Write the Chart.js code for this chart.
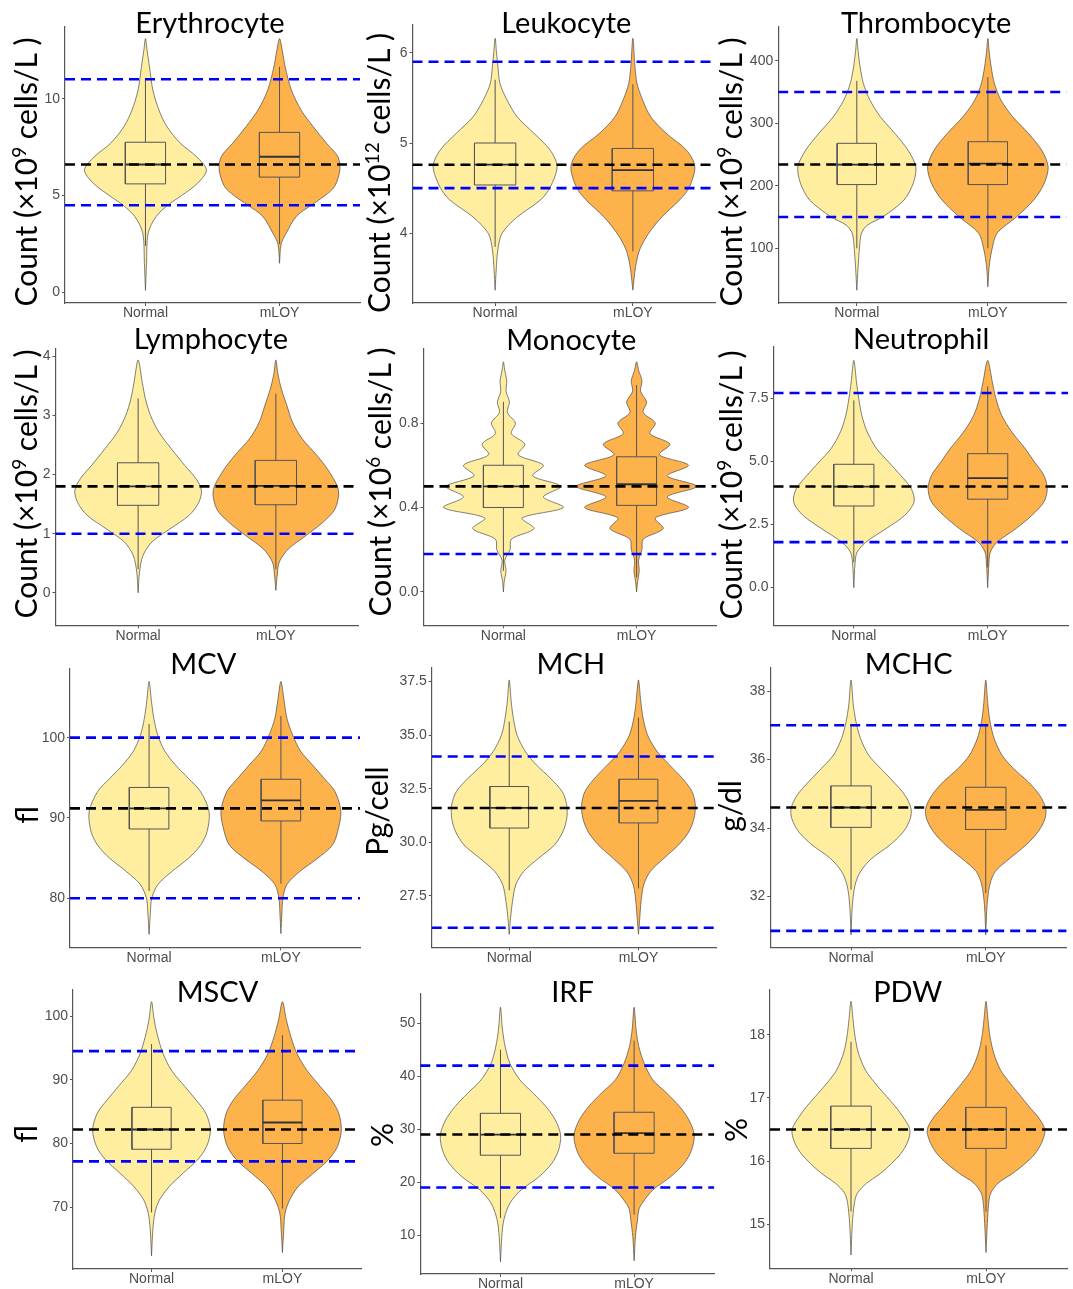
<!DOCTYPE html>
<html>
<head>
<meta charset="utf-8">
<script src="https://cdn.jsdelivr.net/npm/chart.js"></script>
<style>
  html, body { margin: 0; padding: 0; background: #fff; }
  #page { position: relative; width: 1073px; height: 1289px; overflow: hidden; background: #fff; }
  #page canvas { position: absolute; }
</style>
</head>
<body>
<div id="page"></div>
<script>
// ---- values ----
const categories = ['Normal', 'mLOY'];
const panelTitles = ['Erythrocyte', 'Leukocyte', 'Thrombocyte', 'Lymphocyte', 'Monocyte', 'Neutrophil',
    'MCV', 'MCH', 'MCHC', 'MSCV', 'IRF', 'PDW'];
// {n} marks a superscript
const yTitles = ['Count (×10{9} cells/L )', 'Count (×10{12} cells/L )', 'Count (×10{9} cells/L )',
    'Count (×10{9} cells/L )', 'Count (×10{6} cells/L )', 'Count (×10{9} cells/L )',
    'fl', 'Pg/cell', 'g/dl', 'fl', '%', '%'];
const yTicks = [[0, 5, 10], [4, 5, 6], [100, 200, 300, 400], [0, 1, 2, 3, 4], [0, 0.4, 0.8], [0, 2.5, 5, 7.5],
    [80, 90, 100], [27.5, 30, 32.5, 35, 37.5], [32, 34, 36, 38], [70, 80, 90, 100], [10, 20, 30, 40, 50], [15, 16, 17, 18]];
const tickDecimals = [0, 0, 0, 0, 1, 1, 0, 1, 0, 0, 0, 0];
const yMin = [-0.55, 3.228, 12.5, -0.55, -0.158, -1.49, 73.9, 25.09, 30.52, 60.32, 2.7, 14.3];
const yMax = [13.7, 6.307, 454.6, 4.13, 1.152, 9.52, 108.55, 38.15, 38.68, 104.08, 55.5, 18.71];

// reference range (blue) and overall median (black)
const refRange = [[4.5, 11], [4.5, 5.9], [150, 350], [1.0], [0.18], [1.8, 7.7],
    [80, 100], [26, 34], [31, 37], [77.2, 94.5], [19, 42], []];
const refMedian = [6.6, 4.76, 234, 1.8, 0.5, 4.0, 91.2, 31.6, 34.6, 82.2, 29.0, 16.5];

// box stats: [q1, median, q3, lower whisker, upper whisker]
const normalBox = [[5.6, 6.6, 7.75, 2.4, 11.05], [4.535, 4.76, 5.0, 3.85, 5.7], [202, 234, 268, 100, 368],
    [1.48, 1.8, 2.2, 0.4, 3.29], [0.4, 0.5, 0.6, 0.1, 0.9], [3.23, 4.0, 4.88, 1.0, 7.41],
    [88.63, 91.2, 93.8, 80.9, 101.7], [30.66, 31.6, 32.6, 27.75, 35.63], [34.02, 34.6, 35.23, 32.2, 37.0],
    [79.1, 82.2, 85.68, 69.2, 95.6], [25.1, 29.0, 33.0, 13.25, 45.0], [16.2, 16.5, 16.87, 15.2, 17.89]];
const mloyBox = [[5.95, 7.0, 8.26, 2.5, 11.65], [4.47, 4.70, 4.94, 3.8, 5.65], [202, 235.5, 270.6, 100, 374],
    [1.49, 1.81, 2.24, 0.4, 3.37], [0.41, 0.51, 0.64, 0.07, 0.98], [3.5, 4.33, 5.3, 0.8, 7.96],
    [89.63, 92.2, 94.82, 81.8, 102.7], [30.9, 31.93, 32.94, 27.84, 35.82], [33.96, 34.53, 35.19, 32.1, 37.0],
    [80.0, 83.3, 86.8, 69.8, 97.0], [25.47, 29.25, 33.2, 13.9, 46.7], [16.2, 16.5, 16.85, 15.2, 17.83]];

// violin profiles: [value, density as half width in category units]
const normalDensity = [
    [[0.1, 0], [1.5, 0.008], [3.06, 0.02], [3.92, 0.08], [4.52, 0.17], [5.0, 0.27], [5.64, 0.39], [6.32, 0.455], [7.01, 0.38], [7.7, 0.26], [8.56, 0.16], [9.42, 0.1], [10.45, 0.055], [11.65, 0.03], [12.5, 0.012], [13.1, 0]],
    [[3.37, 0], [3.6, 0.008], [3.82, 0.02], [4.0, 0.05], [4.18, 0.16], [4.37, 0.33], [4.51, 0.40], [4.74, 0.45], [4.92, 0.40], [5.11, 0.28], [5.29, 0.16], [5.48, 0.085], [5.66, 0.035], [5.85, 0.02], [6.0, 0.01], [6.16, 0]],
    [[33, 0], [70.7, 0.01], [100, 0.02], [124, 0.035], [137, 0.08], [150.6, 0.2], [177.3, 0.36], [203.9, 0.43], [230.5, 0.45], [257.2, 0.39], [283.8, 0.29], [310.4, 0.18], [337.1, 0.1], [363.7, 0.05], [390.4, 0.025], [415, 0.01], [435.6, 0]],
    [[0, 0], [0.35, 0.01], [0.63, 0.035], [0.86, 0.1], [1.08, 0.23], [1.31, 0.37], [1.53, 0.44], [1.73, 0.46], [1.93, 0.42], [2.15, 0.34], [2.44, 0.24], [2.72, 0.15], [3.0, 0.09], [3.28, 0.053], [3.56, 0.03], [3.94, 0]],
    [[0, 0], [0.05, 0.006], [0.1, 0.02], [0.15, 0.01], [0.2, 0.05], [0.25, 0.06], [0.3, 0.23], [0.35, 0.14], [0.4, 0.45], [0.45, 0.3], [0.5, 0.43], [0.55, 0.22], [0.6, 0.3], [0.65, 0.11], [0.7, 0.16], [0.75, 0.06], [0.8, 0.09], [0.85, 0.03], [0.9, 0.045], [0.95, 0.02], [1.0, 0.025], [1.05, 0.01], [1.09, 0]],
    [[0, 0], [1.01, 0.01], [1.41, 0.025], [1.8, 0.09], [2.33, 0.24], [2.86, 0.38], [3.39, 0.45], [3.91, 0.43], [4.44, 0.35], [4.97, 0.26], [5.5, 0.17], [6.16, 0.1], [6.81, 0.06], [7.47, 0.037], [8.13, 0.02], [8.99, 0]],
    [[75.5, 0], [78.3, 0.01], [80, 0.02], [81.7, 0.066], [83.3, 0.17], [85, 0.3], [86.6, 0.39], [88.3, 0.44], [90.8, 0.455], [93.3, 0.39], [94.9, 0.3], [96.6, 0.2], [98.3, 0.12], [100.3, 0.066], [102.4, 0.036], [104.5, 0.018], [107, 0]],
    [[25.7, 0], [26.44, 0.01], [27.22, 0.025], [28.0, 0.05], [28.62, 0.11], [29.24, 0.225], [29.87, 0.35], [30.49, 0.415], [31.11, 0.445], [31.74, 0.445], [32.36, 0.41], [32.98, 0.32], [33.61, 0.21], [34.23, 0.125], [35.01, 0.06], [35.79, 0.032], [36.57, 0.015], [37.58, 0]],
    [[30.88, 0], [31.76, 0.01], [32.34, 0.03], [32.73, 0.07], [33.12, 0.155], [33.51, 0.29], [33.9, 0.39], [34.28, 0.44], [34.58, 0.445], [34.96, 0.4], [35.35, 0.315], [35.74, 0.22], [36.13, 0.13], [36.62, 0.07], [37.1, 0.037], [37.59, 0.017], [38.32, 0]],
    [[62.4, 0], [66.45, 0.01], [69.06, 0.025], [71.15, 0.06], [73.24, 0.135], [75.33, 0.24], [77.42, 0.35], [79.51, 0.42], [82.13, 0.45], [84.74, 0.415], [86.83, 0.34], [88.92, 0.255], [91.54, 0.15], [94.15, 0.087], [96.76, 0.048], [99.38, 0.02], [102.25, 0]],
    [[5.0, 0], [9.75, 0.01], [12.89, 0.025], [16.04, 0.07], [18.55, 0.155], [21.07, 0.29], [23.58, 0.385], [26.1, 0.435], [28.93, 0.45], [31.76, 0.41], [34.28, 0.34], [36.79, 0.245], [39.31, 0.145], [42.45, 0.07], [45.6, 0.035], [48.74, 0.015], [53, 0]],
    [[14.51, 0], [15.01, 0.01], [15.33, 0.025], [15.49, 0.047], [15.65, 0.117], [15.8, 0.216], [15.96, 0.3], [16.12, 0.37], [16.28, 0.415], [16.44, 0.437], [16.54, 0.43], [16.7, 0.385], [16.86, 0.33], [17.02, 0.265], [17.23, 0.18], [17.44, 0.107], [17.71, 0.055], [17.97, 0.03], [18.24, 0.015], [18.53, 0]]
];
const mloyDensity = [
    [[1.5, 0], [2.5, 0.012], [3.06, 0.05], [3.92, 0.125], [4.52, 0.24], [5.0, 0.34], [5.46, 0.41], [6.32, 0.45], [7.0, 0.435], [7.7, 0.35], [8.56, 0.25], [9.42, 0.16], [10.45, 0.088], [11.65, 0.042], [12.5, 0.02], [13.1, 0]],
    [[3.37, 0], [3.63, 0.02], [3.82, 0.05], [4.0, 0.115], [4.18, 0.21], [4.37, 0.34], [4.51, 0.41], [4.74, 0.45], [4.92, 0.39], [5.11, 0.24], [5.29, 0.13], [5.48, 0.07], [5.66, 0.03], [5.85, 0.015], [6.16, 0]],
    [[38.5, 0], [70.7, 0.01], [97, 0.03], [124, 0.07], [150.6, 0.22], [177.3, 0.35], [203.9, 0.43], [230.5, 0.46], [257.2, 0.41], [283.8, 0.31], [310.4, 0.19], [337.1, 0.1], [363.7, 0.05], [390.4, 0.025], [415, 0.01], [435.6, 0]],
    [[0.04, 0], [0.3, 0.01], [0.52, 0.025], [0.74, 0.09], [0.97, 0.22], [1.2, 0.345], [1.42, 0.43], [1.73, 0.455], [2.04, 0.39], [2.32, 0.3], [2.61, 0.19], [2.89, 0.12], [3.17, 0.08], [3.45, 0.04], [3.7, 0.015], [3.94, 0]],
    [[0, 0], [0.05, 0.008], [0.1, 0.02], [0.15, 0.015], [0.2, 0.04], [0.25, 0.05], [0.3, 0.2], [0.35, 0.14], [0.4, 0.39], [0.45, 0.23], [0.5, 0.45], [0.55, 0.23], [0.6, 0.39], [0.65, 0.17], [0.7, 0.25], [0.75, 0.1], [0.8, 0.14], [0.85, 0.05], [0.9, 0.075], [0.95, 0.03], [1.0, 0.04], [1.05, 0.015], [1.09, 0]],
    [[0, 0], [1.01, 0.01], [1.41, 0.02], [1.8, 0.07], [2.33, 0.21], [2.86, 0.33], [3.39, 0.42], [3.91, 0.445], [4.44, 0.42], [4.97, 0.35], [5.5, 0.28], [6.16, 0.18], [6.81, 0.105], [7.47, 0.062], [8.13, 0.035], [8.99, 0]],
    [[75.6, 0], [78.3, 0.008], [80, 0.015], [81.7, 0.045], [83.3, 0.14], [85, 0.28], [86.6, 0.39], [88.3, 0.43], [90.8, 0.455], [93.3, 0.41], [94.9, 0.33], [96.6, 0.24], [98.3, 0.15], [100.3, 0.09], [102.4, 0.046], [104.5, 0.025], [107, 0]],
    [[25.7, 0], [26.44, 0.01], [27.22, 0.02], [28.0, 0.04], [28.62, 0.09], [29.24, 0.195], [29.87, 0.31], [30.49, 0.39], [31.11, 0.43], [31.74, 0.44], [32.36, 0.415], [32.98, 0.34], [33.61, 0.24], [34.23, 0.145], [35.01, 0.07], [35.79, 0.036], [36.57, 0.018], [37.58, 0]],
    [[30.88, 0], [31.76, 0.01], [32.34, 0.03], [32.73, 0.07], [33.12, 0.18], [33.51, 0.3], [33.9, 0.39], [34.28, 0.44], [34.58, 0.445], [34.96, 0.4], [35.35, 0.315], [35.74, 0.205], [36.13, 0.12], [36.62, 0.062], [37.1, 0.032], [37.59, 0.016], [38.32, 0]],
    [[62.9, 0], [66.45, 0.01], [69.06, 0.02], [71.15, 0.055], [73.24, 0.12], [75.33, 0.235], [77.42, 0.35], [79.51, 0.42], [82.13, 0.45], [84.74, 0.43], [86.83, 0.375], [88.92, 0.29], [91.54, 0.185], [94.15, 0.11], [96.76, 0.064], [99.38, 0.03], [102.25, 0]],
    [[5.2, 0], [9.75, 0.01], [12.89, 0.025], [14.78, 0.035], [16.04, 0.06], [18.55, 0.14], [21.07, 0.275], [23.58, 0.375], [26.1, 0.43], [28.93, 0.45], [31.76, 0.41], [34.28, 0.34], [36.79, 0.245], [39.31, 0.14], [42.45, 0.075], [45.6, 0.035], [48.74, 0.015], [53, 0]],
    [[14.55, 0], [15.01, 0.01], [15.33, 0.02], [15.49, 0.035], [15.65, 0.09], [15.8, 0.195], [15.96, 0.29], [16.12, 0.365], [16.28, 0.41], [16.44, 0.435], [16.54, 0.43], [16.7, 0.385], [16.86, 0.32], [17.02, 0.26], [17.23, 0.18], [17.44, 0.108], [17.71, 0.057], [17.97, 0.03], [18.24, 0.015], [18.53, 0]]
];

// ---- layout (page pixels) ----
// plot area of each panel: [left, top, right, bottom]
const plotBoxes = [[65, 27, 360, 303], [412.5, 25, 715.5, 303], [778.2, 26.7, 1066.5, 303],
    [55.5, 348.7, 358.5, 625.3], [423.5, 348.7, 716.5, 625.3], [773.5, 347, 1068, 625.3],
    [70, 669, 360, 947.3], [431.7, 667.7, 716, 947.3], [770.2, 667.7, 1066.6, 947.3],
    [73, 990, 361, 1269], [420.3, 994, 714.3, 1274], [770, 990, 1067, 1268.3]];
const cellX = [0, 360, 715];
const cellW = [364, 358, 358];
const rowTop = [0, 322, 645, 970];
const titleX = [210, 566.3, 926.2, 210.8, 571.3, 921.2, 203.3, 570.8, 908.7, 217.5, 572.5, 907.8];
const titleBase = [33, 33, 33, 349, 350, 349, 674, 674, 674, 1002, 1002, 1002];
const yTitleX = [37, 390, 742, 37, 391, 742, 38, 388, 741, 37, 393, 747];
const yTitleY = [172, 173, 172, 484, 482, 485, 815, 811, 806, 1134, 1135, 1130];

const Y_SCALE_W = 44;
const X_SCALE_H = 22;
const BOX_HALF = 0.15;
const fillColors = ['#FFEDA0', '#FEB24C'];
const TITLE_FONT = '29px Lato';
const LABEL_SIZE = 30;
const TICK_FONT = {family: '"Liberation Sans", Arial, sans-serif', size: 14};

function drawRich(ctx, text, size) {
    const parts = text.split(/[{}]/).map((t, k) => ({t: t, sup: k % 2 === 1})).filter(p => p.t);
    const fontFor = p => (p.sup ? Math.round(size * 0.62) : size) + 'px Lato';
    let total = 0;
    parts.forEach(p => {
        ctx.font = fontFor(p);
        p.w = ctx.measureText(p.t).width;
        total += p.w;
    });
    let x = -total / 2;
    ctx.textAlign = 'left';
    ctx.textBaseline = 'alphabetic';
    parts.forEach(p => {
        ctx.font = fontFor(p);
        ctx.fillText(p.t, x, p.sup ? -size * 0.38 : 0);
        x += p.w;
    });
}

// panel title and rotated y label, drawn on the chart canvas
const panelText = {
    id: 'panelText',
    afterDraw(chart, args, opts) {
        const ctx = chart.ctx;
        ctx.save();
        ctx.fillStyle = '#000';
        ctx.font = TITLE_FONT;
        ctx.textAlign = 'center';
        ctx.textBaseline = 'alphabetic';
        ctx.fillText(opts.title, opts.titleX, opts.titleY);
        ctx.translate(opts.labelX, opts.labelY);
        ctx.rotate(-Math.PI / 2);
        drawRich(ctx, opts.label, LABEL_SIZE);
        ctx.restore();
    }
};

function violinPoints(pos, profile) {
    const right = profile.map(([v, w]) => ({x: pos + w, y: v}));
    const left = profile.slice(0, -1).reverse().map(([v, w]) => ({x: pos - w, y: v}));
    return right.concat(left);
}

function lineSet(data, color, width, order, extra) {
    return Object.assign({
        data: data,
        showLine: true,
        fill: false,
        borderColor: color,
        borderWidth: width,
        pointRadius: 0,
        pointHoverRadius: 0,
        tension: 0,
        order: order
    }, extra || {});
}

const page = document.getElementById('page');

panelTitles.forEach((title, i) => {
    const col = i % 3, row = Math.floor(i / 3);
    const [L, T, R, B] = plotBoxes[i];
    const cx = cellX[col], cy = rowTop[row], cw = cellW[col];
    const ch = Math.round(B - cy + 30);

    const canvas = document.createElement('canvas');
    canvas.width = cw;
    canvas.height = ch;
    canvas.style.left = cx + 'px';
    canvas.style.top = cy + 'px';
    canvas.style.width = cw + 'px';
    canvas.style.height = ch + 'px';
    page.appendChild(canvas);

    const datasets = [];
    // violins, whiskers, boxes and medians for both groups
    [normalDensity[i], mloyDensity[i]].forEach((profile, g) => {
        const pos = g + 1;
        const box = (g === 0 ? normalBox : mloyBox)[i];
        datasets.push(lineSet(violinPoints(pos, profile), 'rgba(70,70,70,0.85)', 0.8, 5,
            {fill: 'shape', backgroundColor: fillColors[g], tension: 0.3}));
        datasets.push(lineSet([{x: pos, y: box[3]}, {x: pos, y: box[4]}], '#555', 1, 4));
        datasets.push(lineSet([
            {x: pos - BOX_HALF, y: box[0]}, {x: pos + BOX_HALF, y: box[0]},
            {x: pos + BOX_HALF, y: box[2]}, {x: pos - BOX_HALF, y: box[2]},
            {x: pos - BOX_HALF, y: box[0]}
        ], '#555', 1, 3, {fill: 'shape', backgroundColor: fillColors[g], borderJoinStyle: 'miter'}));
        datasets.push(lineSet([{x: pos - BOX_HALF, y: box[1]}, {x: pos + BOX_HALF, y: box[1]}], '#333', 1.8, 2));
    });
    // reference lines
    refRange[i].forEach(v => {
        datasets.push(lineSet([{x: 0.4, y: v}, {x: 2.6, y: v}], '#0000FF', 2.6, 1, {borderDash: [10, 6]}));
    });
    datasets.push(lineSet([{x: 0.4, y: refMedian[i]}, {x: 2.6, y: refMedian[i]}], '#000', 2.6, 0, {borderDash: [10, 6]}));

    const axisColor = '#555';
    new Chart(canvas, {
        type: 'scatter',
        data: {datasets: datasets},
        plugins: [panelText],
        options: {
            responsive: false,
            animation: false,
            devicePixelRatio: 1,
            events: [],
            layout: {
                padding: {
                    left: L - cx - Y_SCALE_W,
                    top: T - cy,
                    right: cx + cw - R,
                    bottom: ch - (B - cy) - X_SCALE_H
                }
            },
            plugins: {
                legend: {display: false},
                tooltip: {enabled: false},
                panelText: {
                    title: title,
                    titleX: titleX[i] - cx,
                    titleY: titleBase[i] - cy,
                    label: yTitles[i],
                    labelX: yTitleX[i] - cx,
                    labelY: yTitleY[i] - cy
                }
            },
            scales: {
                x: {
                    type: 'linear',
                    min: 0.4,
                    max: 2.6,
                    afterBuildTicks: s => { s.ticks = [{value: 1}, {value: 2}]; },
                    afterFit: s => { s.height = X_SCALE_H; },
                    border: {display: true, color: axisColor, width: 1.2},
                    grid: {display: true, drawOnChartArea: false, drawTicks: true, tickLength: 3, color: axisColor},
                    ticks: {
                        autoSkip: false,
                        maxRotation: 0,
                        padding: -1,
                        color: '#4d4d4d',
                        font: TICK_FONT,
                        callback: v => categories[Math.round(v) - 1]
                    }
                },
                y: {
                    type: 'linear',
                    min: yMin[i],
                    max: yMax[i],
                    afterBuildTicks: s => { s.ticks = yTicks[i].map(v => ({value: v})); },
                    afterFit: s => { s.width = Y_SCALE_W; },
                    border: {display: true, color: axisColor, width: 1.2},
                    grid: {display: true, drawOnChartArea: false, drawTicks: true, tickLength: 3, color: axisColor},
                    ticks: {
                        autoSkip: false,
                        padding: 2,
                        color: '#4d4d4d',
                        font: TICK_FONT,
                        callback: v => Number(v).toFixed(tickDecimals[i])
                    }
                }
            }
        }
    });
});
</script>
</body>
</html>
